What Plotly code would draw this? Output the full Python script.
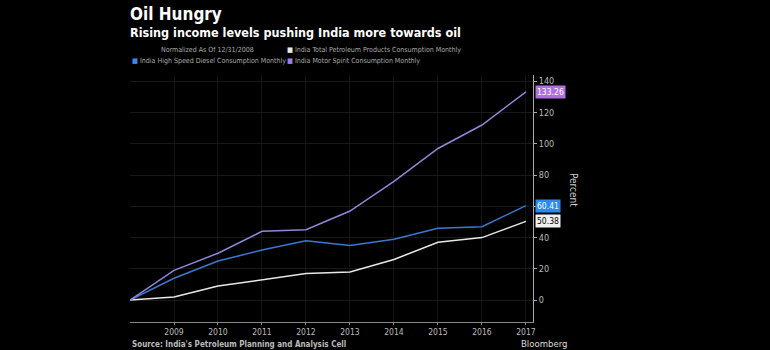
import plotly.graph_objects as go

years = [2008, 2009, 2010, 2011, 2012, 2013, 2014, 2015, 2016, 2017]
total = [0, 2, 9, 13, 17, 18, 26, 37, 40, 50.38]
diesel = [0, 14, 25, 32, 38, 35, 39, 46, 47, 60.41]
motor = [0, 19, 30, 44, 45, 57, 76, 97, 112, 133.26]
tick_years = [2009, 2010, 2011, 2012, 2013, 2014, 2015, 2016, 2017]
y_ticks = [0, 20, 40, 60, 80, 100, 120, 140]
# the 60 tick label is hidden behind the 60.41 value box in the reference
y_ticktext = ["0", "20", "40", "", "80", "100", "120", "140"]

c_total = "#e8e8e8"
c_diesel = "#3c78d0"
c_motor = "#8e88d8"

fig = go.Figure()
fig.add_trace(go.Scatter(x=years, y=total, mode="lines", line=dict(color=c_total, width=1.5),
                         name="India Total Petroleum Products Consumption Monthly"))
fig.add_trace(go.Scatter(x=years, y=diesel, mode="lines", line=dict(color=c_diesel, width=1.5),
                         name="India High Speed Diesel Consumption Monthly"))
fig.add_trace(go.Scatter(x=years, y=motor, mode="lines", line=dict(color=c_motor, width=1.5),
                         name="India Motor Spirit Consumption Monthly"))

fig.update_layout(
    width=770, height=350,
    paper_bgcolor="black", plot_bgcolor="black",
    margin=dict(l=130, r=237, t=75, b=28),
    showlegend=False,
    font=dict(family="DejaVu Sans Condensed, DejaVu Sans", color="#bbbbbb", size=9),
    xaxis=dict(range=[2008, 2017.16], tickvals=tick_years, ticktext=[str(y) for y in tick_years],
               showgrid=True, gridcolor="#151515", gridwidth=1, zeroline=False,
               showline=True, linecolor="#888888", linewidth=1,
               ticks="outside", ticklen=2, tickcolor="#888888",
               tickfont=dict(size=8.5, color="#bbbbbb")),
    yaxis=dict(range=[-14, 144], side="right", tickvals=y_ticks, ticktext=y_ticktext,
               showgrid=True, gridcolor="#181818", gridwidth=1, zeroline=False,
               showline=True, linecolor="#aaaaaa", linewidth=1,
               ticks="outside", ticklen=3, tickcolor="#aaaaaa",
               tickfont=dict(size=9, color="#bbbbbb")),
)


def px_ann(text, x, y, size, color, bold=False, xanchor="left", yanchor="middle", **kw):
    # x, y in pixel coords of the page
    xp = (x - 130) / (770 - 130 - 237)
    yp = (350 - 28 - y) / (350 - 75 - 28)
    fig.add_annotation(text=("<b>%s</b>" % text) if bold else text, x=xp, y=yp,
                       xref="paper", yref="paper", xanchor=xanchor, yanchor=yanchor,
                       showarrow=False, font=dict(size=size, color=color), **kw)

px_ann("Oil Hungry", 128, 14, 17, "white", bold=True)
px_ann("Rising income levels pushing India more towards oil", 128, 33, 12.5, "white", bold=True)
px_ann("Normalized As Of 12/31/2008", 159, 50, 7, "#aaaaaa")
px_ann("<span style='color:#e8e8e8'>■</span> India Total Petroleum Products Consumption Monthly", 285, 50, 7, "#aaaaaa")
px_ann("<span style='color:#3c88f0'>■</span> India High Speed Diesel Consumption Monthly", 130, 61, 7, "#aaaaaa")
px_ann("<span style='color:#9a80e8'>■</span> India Motor Spirit Consumption Monthly", 285, 61, 7, "#aaaaaa")
px_ann("<b>Source: India's Petroleum Planning and Analysis Cell</b>", 130, 344, 8, "#bbbbbb")
px_ann("Bloomberg", 519, 343, 9.5, "#dddddd")
px_ann("Percent", 574, 190, 10, "#cccccc", xanchor="center", textangle=90)

# value labels on the axis
for vals, bg, fg in [(motor, "#b070e0", "white"), (diesel, "#2a8af0", "white"), (total, "#f0f0f0", "black")]:
    fig.add_annotation(text="%.2f" % vals[-1], x=1.0, y=vals[-1], xref="paper", yref="y",
                       xanchor="left", yanchor="middle", xshift=2, showarrow=False,
                       bgcolor=bg, font=dict(size=8.5, color=fg), borderpad=1)

fig.write_html("out.html")
